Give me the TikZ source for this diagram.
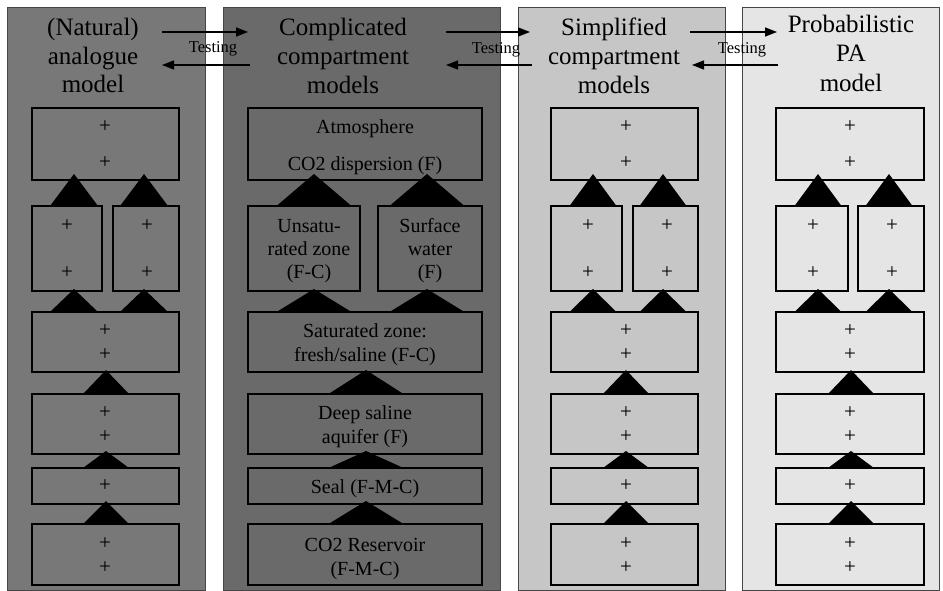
\documentclass[tikz,border=0pt]{standalone}
\usepackage{fontspec}
\setmainfont{Liberation Serif}
\usetikzlibrary{arrows.meta}
\definecolor{panelA}{RGB}{120,120,120}
\definecolor{panelB}{RGB}{106,106,106}
\definecolor{panelC}{RGB}{198,198,198}
\definecolor{panelD}{RGB}{229,229,229}
\definecolor{panelLine}{RGB}{70,70,70}
\newcommand\mkbox[5]{\node[cbox, minimum width={(#4-#2)*1pt}, minimum height={(#5-#3)*1pt}] (#1) at ({(#2+#4)/2},{(#3+#5)/2}) {};}
\newcommand\mktri[4]{\fill[tri] (#1,#2) -- ({#1-#3},#4) -- ({#1+#3},#4) -- cycle;}
\begin{document}
\begin{tikzpicture}[x=1pt,y=-1pt,
  panel/.style={draw=panelLine, line width=0.8pt},
  cbox/.style={draw=black, line width=2pt, inner sep=0pt, outer sep=0pt},
  tri/.style={black},
  plus/.style={inner sep=0pt, font=\fontsize{21}{24}\selectfont},
  btxt/.style={anchor=base, inner sep=0pt, font=\fontsize{20}{24}\selectfont},
  hdr/.style={anchor=base, inner sep=0pt, font=\fontsize{25}{29}\selectfont},
  testlbl/.style={anchor=base, inner sep=0pt, font=\fontsize{16.5}{19}\selectfont},
  tarrow/.style={-{Triangle[length=12pt,width=9pt]}, line width=1.4pt}]
\useasboundingbox (0,0) rectangle (943,591);
\fill[white] (0,0) rectangle (943,591);
% panels
\draw[panel, fill=panelA] (7,7) rectangle (205,590);
\draw[panel, fill=panelB] (223,7) rectangle (500,590);
\draw[panel, fill=panelC] (518,7) rectangle (725,590);
\draw[panel, fill=panelD] (742,7) rectangle (939,590);
% headers
\node[hdr] (h1a) at (93,36) {(Natural)};
\node[hdr] (h1b) at (93,65) {analogue};
\node[hdr] (h1c) at (93,93) {model};
\node[hdr] (h2a) at (343,36) {Complicated};
\node[hdr] (h2b) at (343,65) {compartment};
\node[hdr] (h2c) at (343,94) {models};
\node[hdr] (h3a) at (614,36) {Simplified};
\node[hdr] (h3b) at (614,65) {compartment};
\node[hdr] (h3c) at (614,94) {models};
\node[hdr] (h4a) at (851,33) {Probabilistic};
\node[hdr] (h4b) at (851,62) {PA};
\node[hdr] (h4c) at (851,92) {model};
% testing arrows
\coordinate (t12a) at (162,32); \coordinate (t12b) at (248,32);
\coordinate (t12c) at (250,65); \coordinate (t12d) at (162,65);
\coordinate (t23a) at (446,32); \coordinate (t23b) at (530,32);
\coordinate (t23c) at (532,65); \coordinate (t23d) at (446,65);
\coordinate (t34a) at (690,32); \coordinate (t34b) at (777,32);
\coordinate (t34c) at (778,65); \coordinate (t34d) at (692,65);
\draw[tarrow] (t12a) -- (t12b);
\draw[tarrow] (t12c) -- (t12d);
\draw[tarrow] (t23a) -- (t23b);
\draw[tarrow] (t23c) -- (t23d);
\draw[tarrow] (t34a) -- (t34b);
\draw[tarrow] (t34c) -- (t34d);
\node[testlbl] (l12) at (213,53) {Testing};
\node[testlbl] (l23) at (496,54) {Testing};
\node[testlbl] (l34) at (742,54) {Testing};
% boxes column 1
\mkbox{a1}{32}{108}{179}{180}
\mkbox{a2}{32}{206}{102}{291}
\mkbox{a3}{113}{206}{179}{291}
\mkbox{a4}{32}{312}{179}{372}
\mkbox{a5}{32}{394}{179}{454}
\mkbox{a6}{32}{468}{179}{504}
\mkbox{a7}{32}{524}{179}{585}
% boxes column 2
\mkbox{b1}{248}{108}{482}{180}
\mkbox{b2}{248}{206}{360}{291}
\mkbox{b3}{378}{206}{482}{291}
\mkbox{b4}{248}{312}{482}{372}
\mkbox{b5}{248}{394}{482}{454}
\mkbox{b6}{248}{468}{482}{504}
\mkbox{b7}{248}{524}{482}{585}
% boxes column 3
\mkbox{c1}{551}{108}{698}{180}
\mkbox{c2}{551}{206}{622}{291}
\mkbox{c3}{633}{206}{698}{291}
\mkbox{c4}{551}{312}{698}{372}
\mkbox{c5}{551}{394}{698}{454}
\mkbox{c6}{551}{468}{698}{504}
\mkbox{c7}{551}{524}{698}{585}
% boxes column 4
\mkbox{d1}{776}{108}{924}{180}
\mkbox{d2}{776}{206}{848}{291}
\mkbox{d3}{858}{206}{924}{291}
\mkbox{d4}{776}{312}{924}{372}
\mkbox{d5}{776}{394}{924}{454}
\mkbox{d6}{776}{468}{924}{504}
\mkbox{d7}{776}{524}{924}{585}
% triangles
\foreach \lx/\rx/\hw/\mx/\mw in {74/144/24/106/23, 314/427/37.5/366/37.5, 593/663/23.5/626/23, 818/889/23.5/851/23}{
  \mktri{\lx}{174}{\hw}{206}
  \mktri{\rx}{174}{\hw}{206}
  \mktri{\lx}{289}{\hw}{312}
  \mktri{\rx}{289}{\hw}{312}
  \mktri{\mx}{370}{\mw}{394}
  \mktri{\mx}{451}{\mw}{468}
  \mktri{\mx}{501}{\mw}{524}
}
% plus signs
\foreach \cl/\m/\l/\r in {a/105/67/147, c/626/588/667, d/850/813/892}{
  \node[plus] (\cl p1) at (\m,127) {+};
  \node[plus] (\cl p2) at (\m,163) {+};
  \node[plus] (\cl p3) at (\l,226) {+};
  \node[plus] (\cl p4) at (\l,273) {+};
  \node[plus] (\cl p5) at (\r,226) {+};
  \node[plus] (\cl p6) at (\r,273) {+};
  \node[plus] (\cl p7) at (\m,331) {+};
  \node[plus] (\cl p8) at (\m,355) {+};
  \node[plus] (\cl p9) at (\m,413) {+};
  \node[plus] (\cl p10) at (\m,437) {+};
  \node[plus] (\cl p11) at (\m,486) {+};
  \node[plus] (\cl p12) at (\m,544) {+};
  \node[plus] (\cl p13) at (\m,568) {+};
}
% column 2 texts
\node[btxt] (bt1) at (365,134) {Atmosphere};
\node[btxt] (bt2) at (365,171) {CO2 dispersion (F)};
\node[btxt] (bt3) at (309,232) {Unsatu-};
\node[btxt] (bt4) at (309,255) {rated zone};
\node[btxt] (bt5) at (309,278) {(F-C)};
\node[btxt] (bt6) at (430,232) {Surface};
\node[btxt] (bt7) at (430,255) {water};
\node[btxt] (bt8) at (430,278) {(F)};
\node[btxt] (bt9) at (365,337) {Saturated zone:};
\node[btxt] (bt10) at (365,361) {fresh/saline (F-C)};
\node[btxt] (bt11) at (365,419) {Deep saline};
\node[btxt] (bt12) at (365,443) {aquifer (F)};
\node[btxt] (bt13) at (365,493) {Seal (F-M-C)};
\node[btxt] (bt14) at (365,551) {CO2 Reservoir};
\node[btxt] (bt15) at (365,575) {(F-M-C)};
\end{tikzpicture}
\end{document}
